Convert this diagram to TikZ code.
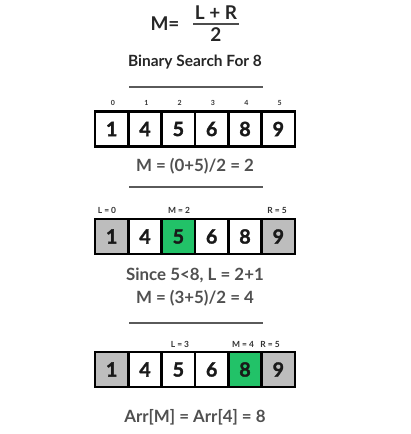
\documentclass[tikz,border=0pt]{standalone}
\usepackage{fontspec}
\setmainfont{Lato}
\newfontfamily\heavyfont{Lato}[BoldFeatures={FakeBold=1.6}]
\usepackage{tikz}
\definecolor{gruen}{RGB}{34,194,104}
\definecolor{grau}{RGB}{189,189,189}
\definecolor{textgrau}{RGB}{80,80,80}
\definecolor{linie}{RGB}{90,90,90}
\tikzstyle{cell} = [draw=black,line width=1.8pt,rectangle,minimum width=0.833cm,minimum height=0.875cm,inner sep=0pt,font=\heavyfont\bfseries\fontsize{14}{14}\selectfont,text=black!90]
\tikzstyle{idx} = [inner sep=0pt,font=\bfseries\fontsize{5}{5}\selectfont,text=black!80]
\tikzstyle{ptr} = [inner sep=0pt,font=\bfseries\fontsize{6}{6}\selectfont,text=black!80]
\tikzstyle{step'} = [inner sep=1pt,font=\bfseries\fontsize{12}{12}\selectfont,text=textgrau]
\tikzstyle{formula} = [inner sep=0pt,font=\bfseries\fontsize{13.5}{13.5}\selectfont,text=black!85]
\tikzstyle{rule} = [draw=linie,line width=1.2pt]

\begin{document}
\begin{tikzpicture}[x=0.025cm,y=-0.025cm]
\useasboundingbox (0,0) rectangle (410,434);

% formula and title
\node[formula] (Meq) at (165,24) {M=};
\node[formula,inner sep=1pt] (num) at (216,13) {L + R};
\node[formula] (den) at (216,35) {2};
\draw[rule,draw=black!70] ([yshift=-1.5pt]num.south west) -- ([yshift=-1.5pt]num.south east);
\node[inner sep=0pt,font=\bfseries\fontsize{11}{11}\selectfont,text=black!85] (title) at (195,62) {Binary Search For 8};
\draw[rule] (129,87) -- (263,87);

% first pass
\foreach \v [count=\i from 0] in {1,4,5,6,8,9} {
  \node[cell,fill=white] (A\i) at (111.7+33.33*\i,129) {\v};
  \node[idx] (I\i) at (113+33.33*\i,103) {\i};
}
\node[step'] (T1) at (195,166) {M = (0+5)/2 = 2};
\draw[rule] (129,187) -- (263,187);

% second pass
\foreach \v/\c [count=\i from 0] in {1/grau,4/white,5/gruen,6/white,8/white,9/grau} {
  \node[cell,fill=\c] (B\i) at (111.7+33.33*\i,236.5) {\v};
}
\node[ptr] (L1) at (107,210) {L = 0};
\node[ptr] (M1) at (179,210) {M = 2};
\node[ptr] (R1) at (277,210) {R = 5};
\node[step'] (T2) at (195,275) {Since 5<8, L = 2+1};
\node[step'] (T3) at (195,298) {M = (3+5)/2 = 4};
\draw[rule] (129,323) -- (263,323);

% third pass
\foreach \v/\c [count=\i from 0] in {1/grau,4/white,5/white,6/white,8/gruen,9/grau} {
  \node[cell,fill=\c] (C\i) at (111.7+33.33*\i,369.5) {\v};
}
\node[ptr] (L2) at (180,344) {L = 3};
\node[ptr] (M2) at (243,344) {M = 4};
\node[ptr] (R2) at (270,344) {R = 5};
\node[step'] (T4) at (195,417) {Arr[M] = Arr[4] = 8};
\end{tikzpicture}
\end{document}
